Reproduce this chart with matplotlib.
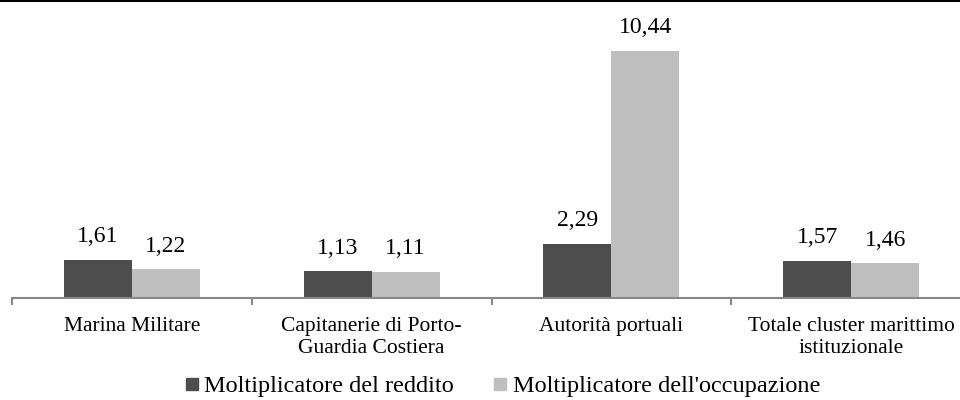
import matplotlib.pyplot as plt
from matplotlib.lines import Line2D
import numpy as np

categories = ["Marina Militare", "Capitanerie di Porto-\nGuardia Costiera",
              "Autorità portuali", "Totale cluster marittimo\nistituzionale"]
reddito = [1.61, 1.13, 2.29, 1.57]
occupazione = [1.22, 1.11, 10.44, 1.46]
series_names = ["Moltiplicatore del reddito", "Moltiplicatore dell'occupazione"]
colors = ["#4d4d4d", "#bfbfbf"]

plt.rcParams['font.family'] = ['Liberation Serif', 'DejaVu Serif']

W, H = 960, 400
fig = plt.figure(figsize=(9.6, 4.0), dpi=100)
# axis spans past the right edge, as in the reference (cropped)
ax = fig.add_axes([12 / W, (H - 298) / H, 959 / W, 296 / H])

x = np.arange(len(categories))
bw = 0.284
b1 = ax.bar(x - bw / 2, reddito, bw, color=colors[0], label=series_names[0])
b2 = ax.bar(x + bw / 2, occupazione, bw, color=colors[1], label=series_names[1])

for bars, vals in ((b1, reddito), (b2, occupazione)):
    for b, v in zip(bars, vals):
        ax.annotate(f"{v:.2f}".replace(".", ","),
                    (b.get_x() + b.get_width() / 2, v),
                    xytext=(0, 9), textcoords="offset points",
                    ha="center", va="bottom", fontsize=17)

ax.set_xlim(-0.5, len(categories) - 0.5)
ax.set_ylim(0, 12.5)
ax.set_yticks([])
for s in ("top", "right", "left"):
    ax.spines[s].set_visible(False)
ax.spines["bottom"].set_color("#888888")
ax.spines["bottom"].set_linewidth(1.5)

ax.set_xticks(np.arange(len(categories) + 1) - 0.5, minor=False)
ax.set_xticklabels([])
ax.tick_params(axis="x", length=5, color="#888888", width=1.5)
ax.set_xticks(x, minor=True)
ax.set_xticklabels(categories, minor=True, fontsize=15.5, linespacing=1.2)
ax.tick_params(axis="x", which="minor", length=0, pad=14)

handles = [Line2D([], [], marker="s", linestyle="", markersize=9,
                  color=c) for c in colors]
fig.legend(handles, series_names, loc="center", bbox_to_anchor=(500 / W, 1 - 386 / H),
           ncol=2, frameon=False, fontsize=17.5, handletextpad=0.0,
           columnspacing=1.4, handlelength=1.0)

fig.add_artist(Line2D([0, 1], [1 - 1 / H, 1 - 1 / H], color="black",
                      linewidth=1.5, transform=fig.transFigure))

fig.savefig("out.png", dpi=100)
